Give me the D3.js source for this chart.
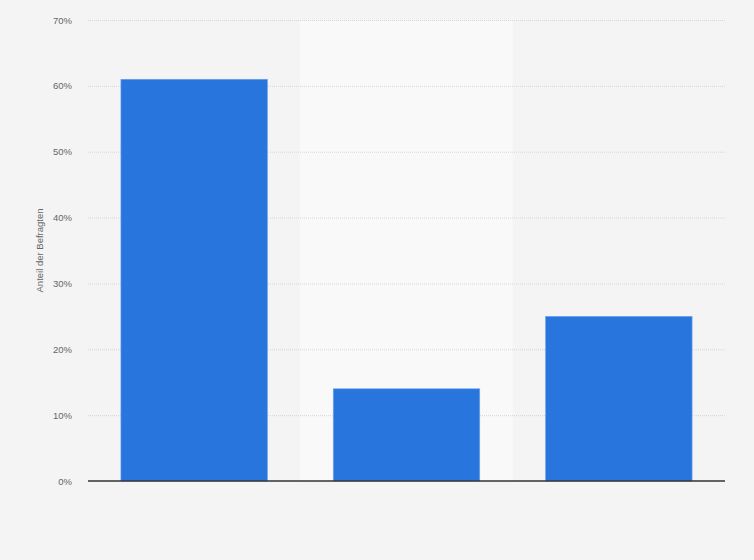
<!DOCTYPE html>
<html>
<head>
<meta charset="utf-8">
<script src="https://cdn.jsdelivr.net/npm/d3@7"></script>
<style>
    body { margin: 0; background: #f4f4f4; }
    svg { display: block; font-family: "Liberation Sans", Arial, sans-serif; }
</style>
</head>
<body>
<svg id="chart"></svg>
<script>
// Daten
const categories = ["A", "B", "C"];
const values = [61, 14, 25];
const yTicks = [0, 10, 20, 30, 40, 50, 60, 70];

const width = 754;
const height = 560;
const margin = { left: 88, top: 20, right: 29, bottom: 79 };
const innerW = width - margin.left - margin.right;
const innerH = height - margin.top - margin.bottom;

const svg = d3.select("#chart")
    .attr("width", width)
    .attr("height", height);

svg.append("rect")
    .attr("width", width)
    .attr("height", height)
    .attr("fill", "#f4f4f4");

const g = svg.append("g")
    .attr("transform", `translate(${margin.left}, ${margin.top})`);

// Skalen
const colScale = d3.scaleBand()
    .domain(categories)
    .range([0, innerW])
    .padding(0);

const xScale = d3.scaleBand()
    .domain(categories)
    .range([0, innerW])
    .paddingInner(0.31)
    .paddingOuter(0.155);

const yScale = d3.scaleLinear()
    .domain([0, 70])
    .range([innerH, 0]);

// Hintergrund der mittleren Spalte
g.selectAll("rect.col")
    .data(categories.filter((d, i) => i % 2 === 1))
    .enter().append("rect")
    .attr("class", "col")
    .attr("x", d => colScale(d))
    .attr("y", 0)
    .attr("width", colScale.bandwidth())
    .attr("height", innerH)
    .attr("fill", "#f9f9f9");

// Gitterlinien
g.selectAll("line.grid")
    .data(yTicks.filter(d => d > 0))
    .enter().append("line")
    .attr("class", "grid")
    .attr("x1", 0)
    .attr("x2", innerW)
    .attr("y1", d => yScale(d) + 0.5)
    .attr("y2", d => yScale(d) + 0.5)
    .attr("stroke", "#d6d6d6")
    .attr("stroke-width", 1)
    .attr("stroke-dasharray", "1,1");

// Y Achse Labels
const yAxis = g.append("g")
    .call(d3.axisLeft(yScale).tickValues(yTicks).tickFormat(d => d + "%").tickSize(0).tickPadding(16));
yAxis.select(".domain").remove();
yAxis.selectAll("text")
    .attr("fill", "#666")
    .style("font-size", "9.5px");

// Balken
g.selectAll("rect.bar")
    .data(values)
    .enter().append("rect")
    .attr("class", "bar")
    .attr("x", (d, i) => xScale(categories[i]))
    .attr("y", d => yScale(d))
    .attr("width", xScale.bandwidth())
    .attr("height", d => innerH - yScale(d))
    .attr("fill", "#2876dd")
    .attr("stroke", "#6fa3ea")
    .attr("stroke-width", 0.6);

// X Achse Linie
g.append("line")
    .attr("x1", 0)
    .attr("x2", innerW)
    .attr("y1", innerH)
    .attr("y2", innerH)
    .attr("stroke", "#333")
    .attr("stroke-width", 1.3);

// Y Achse Titel
svg.append("text")
    .attr("text-anchor", "middle")
    .attr("transform", `translate(43, ${margin.top + innerH / 2}) rotate(-90)`)
    .attr("fill", "#666")
    .style("font-size", "9.5px")
    .text("Anteil der Befragten");
</script>
</body>
</html>
